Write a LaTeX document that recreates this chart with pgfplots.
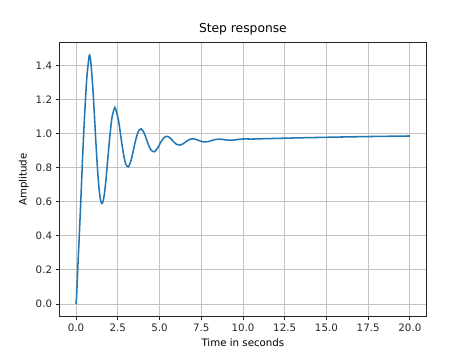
\documentclass[border=0pt]{standalone}
\usepackage{fontspec}
\setmainfont{DejaVu Sans}
\usepackage{pgfplots}
\usepackage{pgfplotstable}
\pgfplotsset{compat=1.18}
\definecolor{mplblue}{HTML}{1F77B4}
\definecolor{mplgrid}{HTML}{C4C4C4}
\pgfplotstableread{
t y
0.00 0.000
0.03 0.030
0.06 0.090
0.10 0.190
0.20 0.400
0.28 0.580
0.36 0.770
0.44 0.950
0.52 1.110
0.60 1.250
0.66 1.340
0.72 1.395
0.77 1.442
0.82 1.4605
0.90 1.409
1.013 1.264
1.10 1.118
1.207 0.928
1.30 0.780
1.40 0.6615
1.50 0.5986
1.594 0.5929
1.70 0.6433
1.787 0.7189
1.90 0.8419
1.981 0.9326
2.10 1.0496
2.174 1.1026
2.30 1.1477
2.368 1.1476
2.561 1.0700
2.755 0.9370
2.948 0.8317
3.141 0.8050
3.335 0.8556
3.528 0.9411
3.722 1.0092
3.915 1.0277
4.109 0.9973
4.302 0.9450
4.496 0.9036
4.689 0.8935
4.882 0.9141
5.076 0.9485
5.269 0.9761
5.463 0.9839
5.656 0.9723
5.850 0.9519
6.043 0.9359
6.237 0.9323
6.430 0.9408
6.624 0.9550
6.817 0.9664
7.010 0.9699
7.204 0.9656
7.397 0.9579
7.591 0.9519
7.784 0.9508
7.978 0.9547
8.171 0.9607
8.365 0.9655
8.558 0.9673
8.752 0.9660
8.945 0.9632
9.138 0.9612
9.332 0.9610
9.525 0.9629
9.719 0.9656
9.912 0.9679
10.106 0.9689
10.49 0.9679
11.0 0.9693
12.0 0.9718
13.0 0.9742
14.0 0.9763
15.0 0.9783
16.0 0.9801
17.0 0.9818
18.0 0.9833
19.0 0.9847
20.0 0.9859
}\resp
\begin{document}
\begin{tikzpicture}
\useasboundingbox (-57.6bp,-38.0bp) rectangle (403.2bp,307.6bp);
\begin{axis}[
  at={(0,0)}, anchor=south west,
  scale only axis, width=357.1bp, height=266.1bp,
  xmin=-1, xmax=21, ymin=-0.073, ymax=1.5335,
  xtick={0,2.5,5,7.5,10,12.5,15,17.5,20},
  ytick={0,0.2,0.4,0.6,0.8,1.0,1.2,1.4},
  /pgf/number format/assume math mode=true,
  xticklabel style={/pgf/number format/.cd, fixed, fixed zerofill, precision=1},
  yticklabel style={/pgf/number format/.cd, fixed, fixed zerofill, precision=1},
  ticklabel style={font=\fontsize{10}{12}\selectfont, text=black!85},
  label style={font=\fontsize{10}{12}\selectfont},
  title style={font=\fontsize{12}{14}\selectfont, yshift=-2pt},
  title={Step response},
  xlabel={Time in seconds},
  ylabel={Amplitude},
  tick align=outside,
  major tick length=3.5pt,
  tick style={black!85, line width=0.8pt},
  axis line style={black!85, line width=0.8pt},
  xtick pos=bottom, ytick pos=left,
  grid=major,
  major grid style={mplgrid, line width=0.8pt},
  scaled ticks=false,
]
\addplot[mplblue, line width=1.5pt, smooth, tension=0.5] table[x=t, y=y] {\resp};
\end{axis}
\end{tikzpicture}
\end{document}
